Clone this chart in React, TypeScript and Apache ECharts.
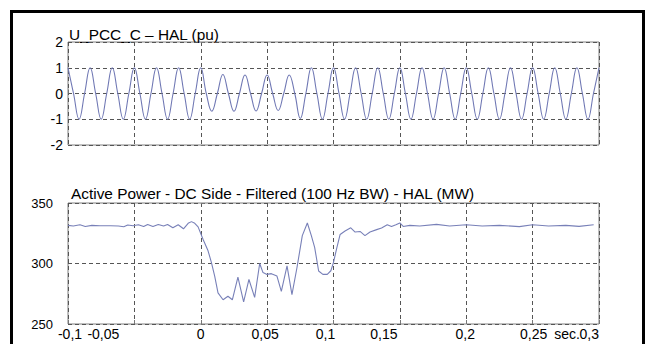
import React, { useEffect, useRef } from 'react';
import * as echarts from 'echarts';

// ---- data ----
const xMin = -0.1;
const xMax = 0.3;
const xStep = 0.05;

// Voltage: extrema (peaks / troughs) every half period of the 60 Hz wave, starting at t = -0.1 s
const uStart = -0.1;
const uHalfPeriod = 1 / 120;
const uExtrema = [
  1, -1, 1, -1, 1, -1, 1, -1, 1, -1, 1, -1, 1,
  -0.69, 0.74, -0.69, 0.72, -0.68, 0.72, -0.66, 0.72, -0.97, 1.0, -1.0, 1.0,
  -1, 1, -1, 1, -1, 1, -1, 1, -1, 1, -1, 1, -1, 1, -1, 1, -1, 1, -1, 1, -1, 1, -1, 1,
];
const uCrossing = 0;

// Active power (MW)
const powerTime = [
  -0.1, -0.096, -0.091, -0.087, -0.082, -0.076, -0.068, -0.062, -0.058, -0.055, -0.051, -0.047,
  -0.043, -0.04, -0.036, -0.032, -0.028, -0.025, -0.021, -0.017, -0.013, -0.0095, -0.007, -0.0045,
  -0.002, 0.0017, 0.0055, 0.008, 0.0105, 0.013, 0.0168, 0.0205, 0.0238, 0.028, 0.0323, 0.0363,
  0.0406, 0.0444, 0.0469, 0.0499, 0.0532, 0.0574, 0.0607, 0.065, 0.0687, 0.0725, 0.0765, 0.0803,
  0.0833, 0.0858, 0.0888, 0.092, 0.0953, 0.098, 0.1, 0.1025, 0.105, 0.1087, 0.113, 0.1163, 0.12,
  0.1237, 0.1275, 0.1325, 0.1362, 0.1405, 0.1437, 0.147, 0.15, 0.1525, 0.1575, 0.165, 0.1776,
  0.1875, 0.2, 0.212, 0.225, 0.24, 0.25, 0.262, 0.275, 0.285, 0.296,
];
const powerValue = [
  331.5, 331, 332, 330.6, 331.5, 331.2, 331.2, 331, 330.4, 331.8, 331.2, 332,
  330.6, 332.3, 330.6, 332.3, 331, 332.3, 329.5, 332, 328.7, 333.2, 334.6, 333.2,
  330.3, 320, 310.5, 301, 289.6, 275.7, 270, 272.9, 270, 288.8, 268.2, 286.8,
  272, 300, 292.5, 291, 291.6, 289.6, 277, 298, 274.3, 296.7, 323, 333.5,
  323, 313.4, 293.8, 291, 291, 294, 301, 313, 324, 326.8, 329.5, 326, 326.5,
  323, 326, 328, 329.3, 332, 330.6, 332, 333.5, 330.6, 331.5, 331, 332.3,
  331, 332, 331, 331.5, 330.5, 332, 331, 331.5, 330.7, 332,
];

const upperTitle = 'U_PCC_C \u2013 HAL (pu)';
const lowerTitle = 'Active Power - DC Side - Filtered (100 Hz BW) - HAL (MW)';
const unitLabel = 'sec.';

const FONT = 'Arial, "Liberation Sans", Helvetica, sans-serif';

// horizontal nudges (px) of the bottom tick labels, as placed in the original figure
const xLabelNudge = [2, -31, 0, -2, -8, -16, -1, 1, 0];

export default function App() {
  const ref = useRef<HTMLDivElement>(null);

  useEffect(() => {
    if (!ref.current) return;
    const chart = echarts.init(ref.current, undefined, { renderer: 'svg' });

    const uData: [number, number][] = [];
    uExtrema.forEach((v, k) => {
      const t = uStart + k * uHalfPeriod;
      uData.push([t, v]);
      if (k < uExtrema.length - 1) uData.push([t + uHalfPeriod / 2, uCrossing]);
    });
    const pData = powerTime.map((t, i) => [t, powerValue[i]]);

    const labelStyle = { color: '#000', fontSize: 14, fontFamily: FONT };
    const rich: any = {};
    xLabelNudge.forEach((s, i) => {
      rich['n' + i] = {
        ...labelStyle,
        padding: s >= 0 ? [0, 0, 0, 2 * s] : [0, -2 * s, 0, 0],
      };
    });

    const idxOf = (v: number) => Math.round((v - xMin) / xStep);
    const txtOf = (v: number) => String(Math.round(v * 100) / 100).replace('.', ',');

    // main axis: every label except the first one
    const fmtMain = (v: number) => {
      const i = idxOf(v);
      if (i === 0) return '';
      return i < xLabelNudge.length - 1 ? `{n${i}|${txtOf(v)}}` : txtOf(v);
    };
    // companion axis (same scale): only the first label
    const fmtFirst = (v: number) => (idxOf(v) === 0 ? `{n0|${txtOf(v)}}` : '');

    const split = { show: true, lineStyle: { color: '#555', type: [4, 3] as any, width: 1 } };
    const tick = { show: true, inside: true, length: 4, lineStyle: { color: '#777' } };

    const option: any = {
      animation: false,
      backgroundColor: '#fff',
      grid: [
        { left: 68, top: 42, width: 531, height: 103, show: true, borderColor: '#808080', borderWidth: 1, containLabel: false },
        { left: 68, top: 203, width: 531, height: 121, show: true, borderColor: '#808080', borderWidth: 1, containLabel: false },
      ],
      xAxis: [
        {
          gridIndex: 0, type: 'value', min: xMin, max: xMax, interval: xStep,
          axisLine: { show: false }, axisTick: tick, axisLabel: { show: false }, splitLine: split,
        },
        {
          gridIndex: 1, type: 'value', min: xMin, max: xMax, interval: xStep, position: 'bottom',
          axisLine: { show: false }, axisTick: tick, splitLine: split,
          axisLabel: {
            show: true, margin: 3, ...labelStyle,
            formatter: fmtMain, rich, alignMaxLabel: 'right',
            showMinLabel: true, showMaxLabel: true,
          },
        },
        {
          gridIndex: 1, type: 'value', min: xMin, max: xMax, interval: xStep, position: 'bottom', offset: 0,
          axisLine: { show: false }, axisTick: { show: false }, splitLine: { show: false },
          axisLabel: {
            show: true, margin: 3, ...labelStyle,
            formatter: fmtFirst, rich, showMinLabel: true,
          },
        },
      ],
      yAxis: [
        {
          gridIndex: 0, type: 'value', min: -2, max: 2, interval: 1,
          axisLine: { show: false }, axisTick: tick, splitLine: split,
          axisLabel: { margin: 5, color: '#000', fontSize: 14, fontFamily: FONT, showMinLabel: true, showMaxLabel: true },
        },
        {
          gridIndex: 1, type: 'value', min: 250, max: 350, interval: 50,
          axisLine: { show: false }, axisTick: tick, splitLine: split,
          axisLabel: { margin: 15, color: '#000', fontSize: 13, fontFamily: FONT, showMinLabel: true, showMaxLabel: true },
        },
      ],
      series: [
        {
          type: 'line', xAxisIndex: 0, yAxisIndex: 0, data: uData, smooth: 0.45,
          showSymbol: false, symbol: 'none', lineStyle: { color: '#7078b4', width: 1.1 },
        },
        {
          type: 'line', xAxisIndex: 1, yAxisIndex: 1, data: pData,
          showSymbol: false, symbol: 'none', lineStyle: { color: '#7880b8', width: 1.1 },
        },
      ],
      graphic: [
        {
          type: 'rect', silent: true,
          shape: { x: 11.5, y: 11.5, width: 632, height: 345 },
          style: { fill: 'none', stroke: '#000', lineWidth: 3 },
        },
        {
          type: 'text', x: 69, y: 34,
          style: { text: upperTitle, fill: '#000', fontSize: 15.4, fontFamily: FONT, verticalAlign: 'middle', align: 'left' },
        },
        {
          type: 'text', x: 71, y: 193,
          style: { text: lowerTitle, fill: '#000', fontSize: 15.4, fontFamily: FONT, verticalAlign: 'middle', align: 'left' },
        },
        {
          type: 'text', x: 567, y: 334,
          style: { text: unitLabel, fill: '#000', fontSize: 14, fontFamily: FONT, verticalAlign: 'middle', align: 'center' },
        },
      ],
    };

    chart.setOption(option);
    return () => chart.dispose();
  }, []);

  return (
    <div
      ref={ref}
      style={{ position: 'fixed', left: 0, top: 0, width: 646, height: 344, background: '#fff' }}
    />
  );
}
